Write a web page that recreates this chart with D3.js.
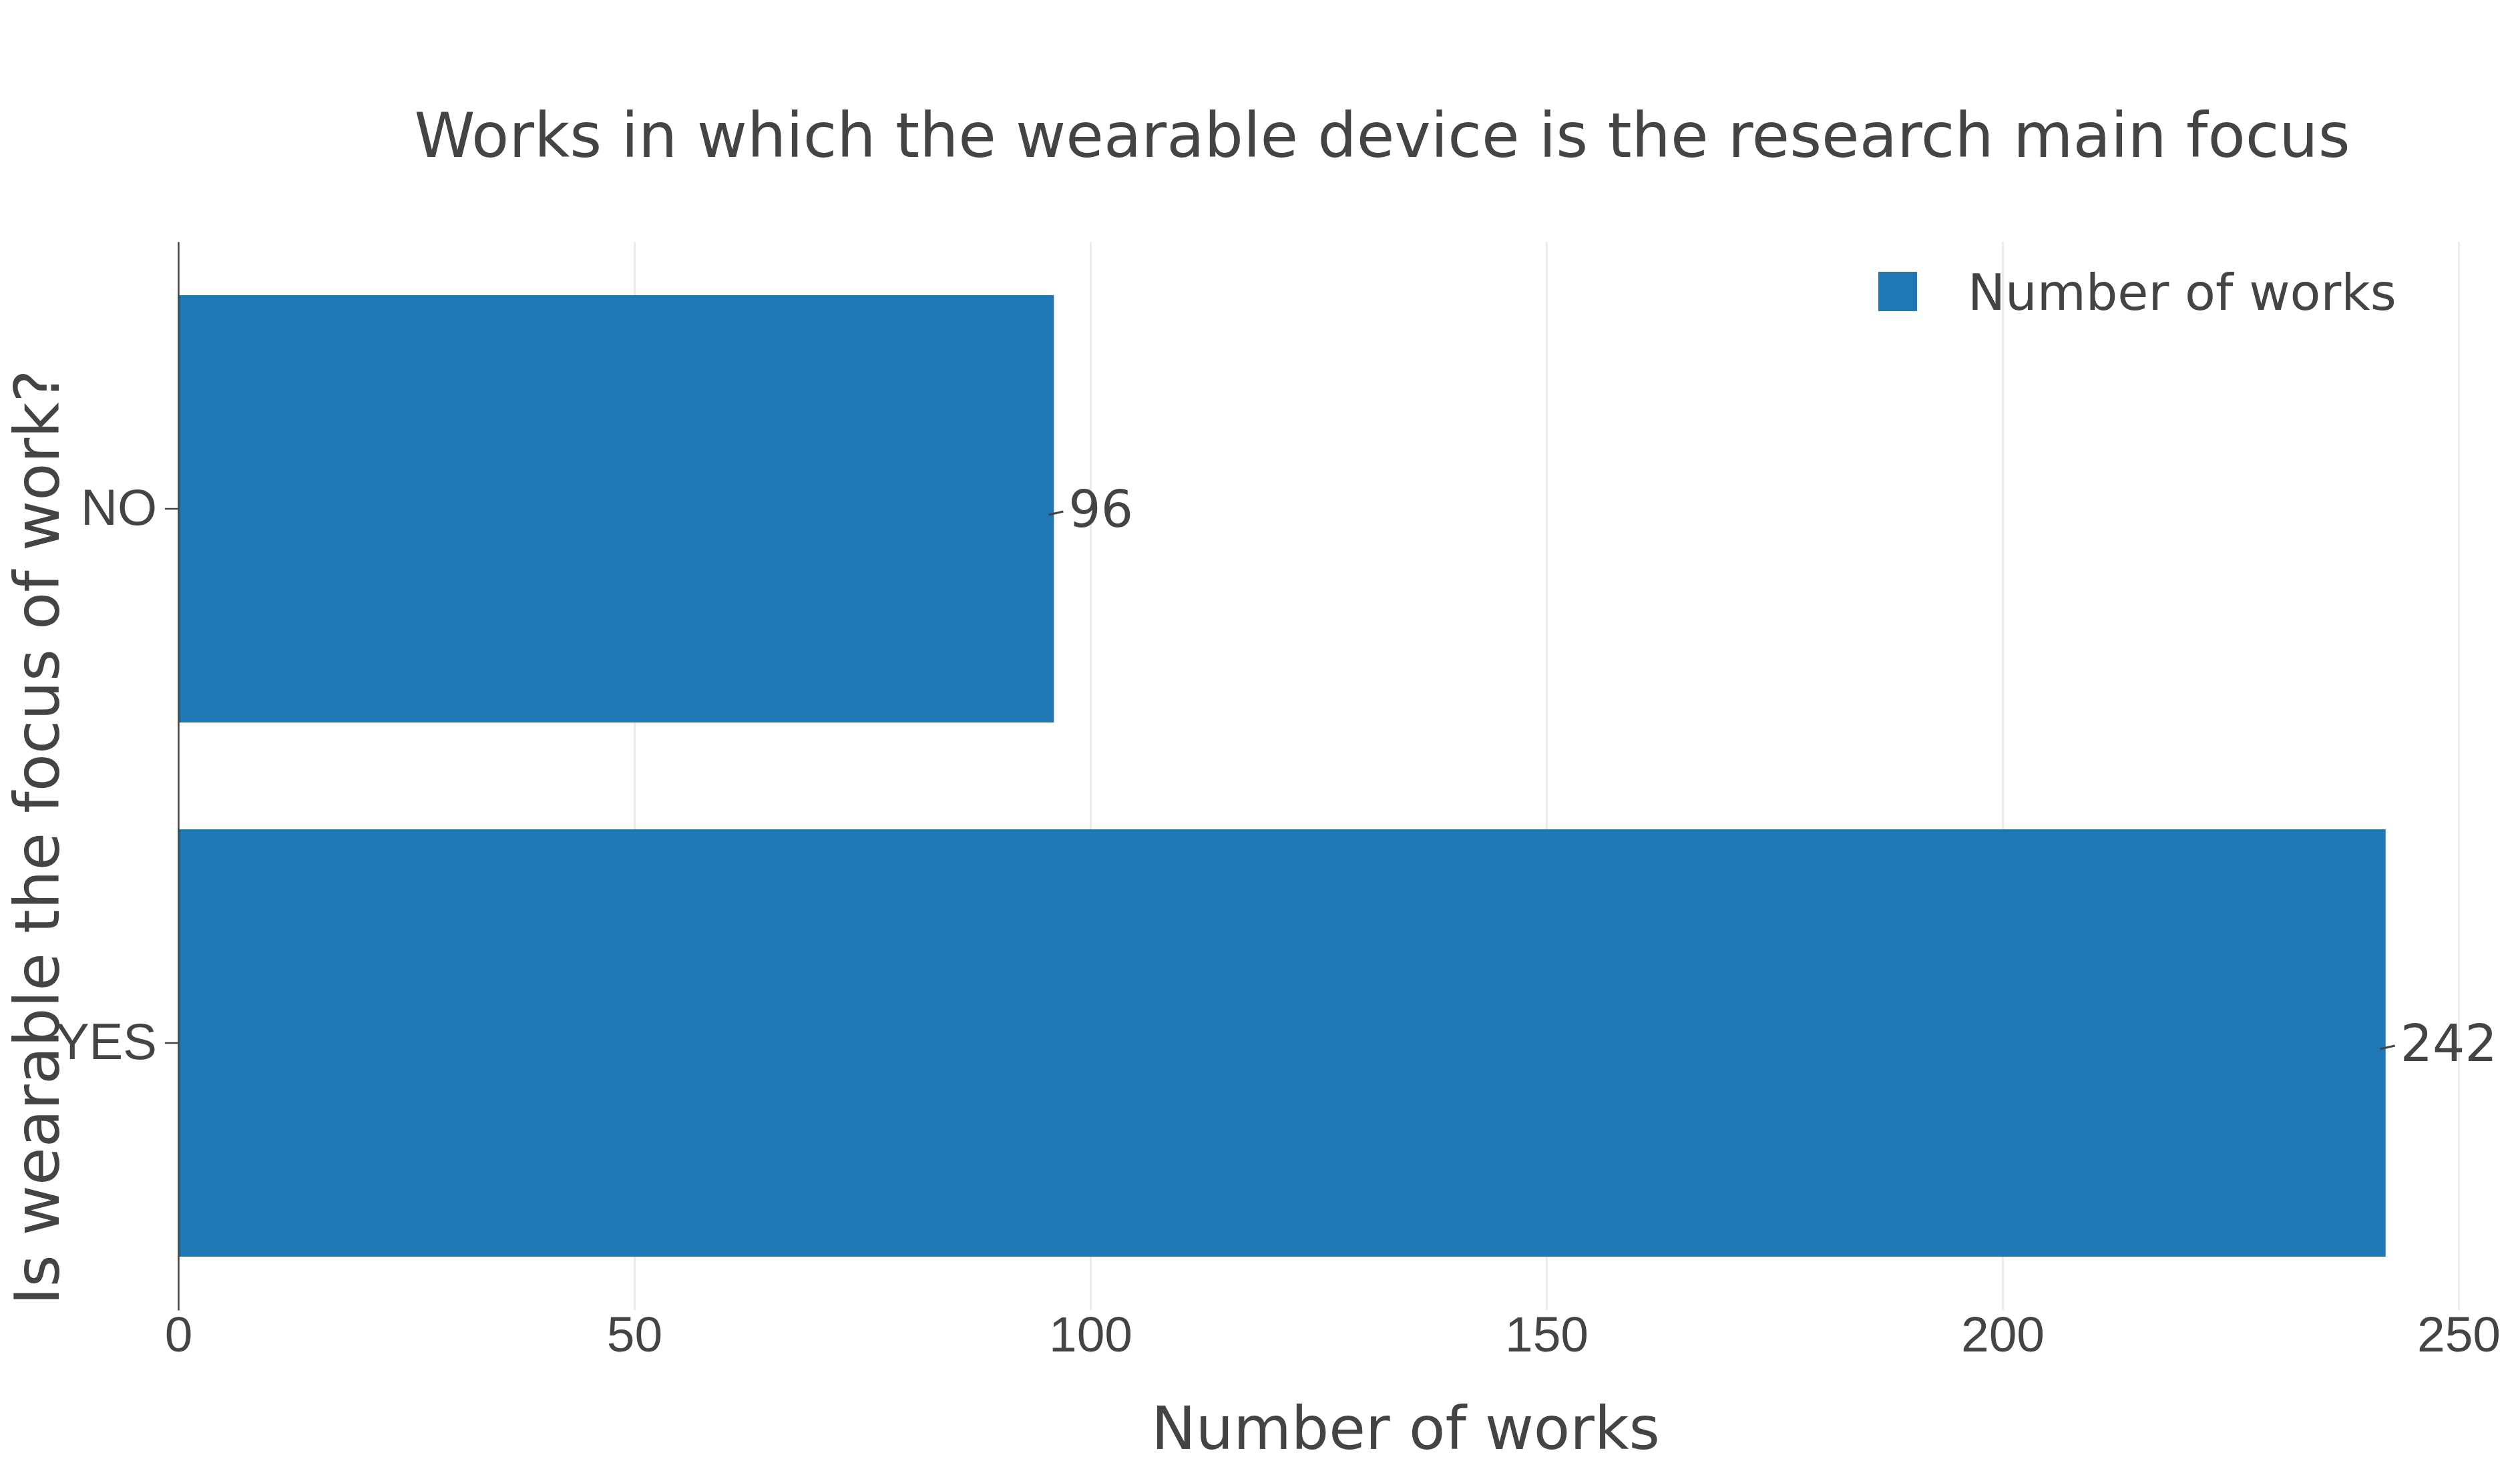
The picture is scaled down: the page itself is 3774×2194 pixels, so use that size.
<!DOCTYPE html>
<html>
<head>
<meta charset="utf-8">
<script src="https://cdn.jsdelivr.net/npm/d3@7"></script>
<style>
  body { margin: 0; background: #fff; }
  svg { display: block; font-family: 'DejaVu Sans', sans-serif; }
</style>
</head>
<body>
<div id="chart"></div>
<script>
const categories = ['NO', 'YES'];
const works = [96, 242];
const xTicks = [0, 50, 100, 150, 200, 250];
const seriesName = 'Number of works';

const width = 3774;
const height = 2194;
const margin = { top: 362, right: 92, bottom: 232, left: 267 };
const textColor = '#444';
const barColor = '#1f77b4';

const svg = d3.select('#chart')
  .append('svg')
  .attr('width', width)
  .attr('height', height);

const x = d3.scaleLinear()
  .domain([0, 250])
  .range([margin.left, width - margin.right]);

const y = d3.scaleBand()
  .domain(categories)
  .range([margin.top, height - margin.bottom])
  .paddingInner(0.2)
  .paddingOuter(0.1);

const plotBottom = height - margin.bottom;

// grid + x tick labels
const xAxis = svg.append('g')
  .attr('transform', `translate(0,${plotBottom})`)
  .call(d3.axisBottom(x)
    .tickValues(xTicks)
    .tickSize(-(plotBottom - margin.top))
    .tickPadding(62)
    .tickFormat(d3.format('d')));

xAxis.select('.domain').remove();
xAxis.selectAll('.tick line')
  .attr('stroke', '#ebebeb')
  .attr('stroke-width', 3)
  .filter(d => d === 0).remove();
xAxis.selectAll('.tick text')
  .attr('fill', textColor)
  .attr('dy', 0)
  .style('font-size', '75px');

// bars
svg.append('g')
  .selectAll('rect')
  .data(categories)
  .enter()
  .append('rect')
  .attr('x', x(0))
  .attr('y', d => y(d))
  .attr('width', (d, i) => x(works[i]) - x(0))
  .attr('height', y.bandwidth())
  .attr('fill', barColor);

// y axis
const yAxis = svg.append('g')
  .attr('transform', `translate(${x(0)},0)`)
  .call(d3.axisLeft(y).tickSizeInner(20).tickSizeOuter(0).tickPadding(12));

yAxis.select('.domain')
  .attr('stroke', textColor)
  .attr('stroke-width', 2.5);
yAxis.selectAll('.tick line')
  .attr('stroke', textColor)
  .attr('stroke-width', 2.5);
yAxis.selectAll('.tick text')
  .attr('fill', textColor)
  .style('font-size', '76px');

// value labels with their small leader dash
const labels = svg.append('g');
categories.forEach((c, i) => {
  const cy = y(c) + y.bandwidth() / 2;
  const xe = x(works[i]);
  labels.append('line')
    .attr('x1', xe - 8)
    .attr('y1', cy + 9)
    .attr('x2', xe + 14)
    .attr('y2', cy + 4)
    .attr('stroke', textColor)
    .attr('stroke-width', 3);
  labels.append('text')
    .attr('x', xe + 22)
    .attr('y', cy)
    .attr('dy', '0.36em')
    .attr('fill', textColor)
    .style('font-size', '76px')
    .text(works[i]);
});

// title
svg.append('text')
  .attr('x', 2070)
  .attr('y', 235)
  .attr('text-anchor', 'middle')
  .attr('fill', textColor)
  .style('font-size', '92px')
  .text('Works in which the wearable device is the research main focus');

// axis titles
svg.append('text')
  .attr('x', 2105)
  .attr('y', 2170)
  .attr('text-anchor', 'middle')
  .attr('fill', textColor)
  .style('font-size', '89px')
  .text('Number of works');

svg.append('text')
  .attr('transform', `translate(88,1254) rotate(-90)`)
  .attr('text-anchor', 'middle')
  .attr('fill', textColor)
  .style('font-size', '92px')
  .text('Is wearable the focus of work?');

// legend
const legend = svg.append('g').attr('transform', 'translate(2813,407)');
legend.append('rect')
  .attr('width', 58)
  .attr('height', 59)
  .attr('fill', barColor);
legend.append('text')
  .attr('x', 134)
  .attr('y', 57)
  .attr('fill', textColor)
  .style('font-size', '75px')
  .text(seriesName);
</script>
</body>
</html>
